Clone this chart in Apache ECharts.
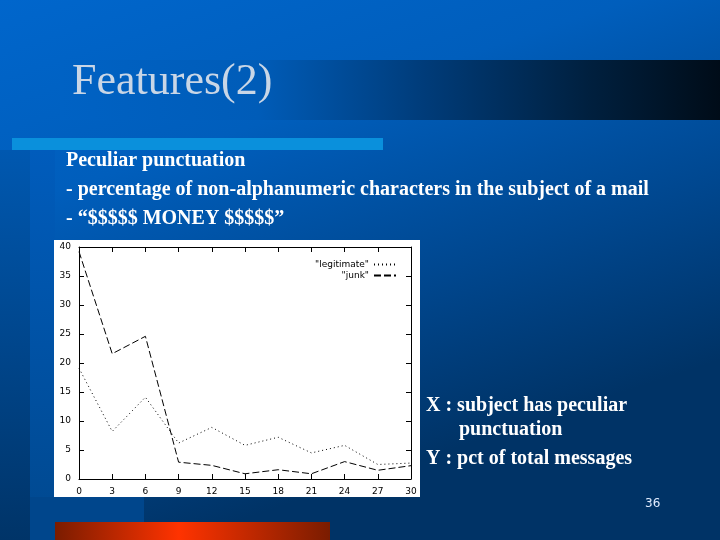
<!DOCTYPE html>
<html><head><meta charset="utf-8">
<script src="https://cdn.jsdelivr.net/npm/echarts@6/dist/echarts.min.js"></script>
<style>html,body{margin:0;padding:0;background:#0060c0}#c{width:720px;height:540px}</style>
</head><body><div id="c"></div>
<script>
var xValues = [0, 3, 6, 9, 12, 15, 18, 21, 24, 27, 30];
var legitimate = [19.1, 8.2, 14.1, 6.2, 8.9, 5.8, 7.2, 4.5, 5.8, 2.5, 2.75];
var junk = [39.2, 21.6, 24.6, 2.9, 2.35, 0.9, 1.6, 0.9, 3.0, 1.5, 2.3];
var xTicks = [0, 3, 6, 9, 12, 15, 18, 21, 24, 27, 30];
var yTicks = [0, 5, 10, 15, 20, 25, 30, 35, 40];

var chart = echarts.init(document.getElementById('c'));
var serif = '"Liberation Serif", "DejaVu Serif", serif';
var axisFont = {color: '#000', fontSize: 9, fontFamily: '"DejaVu Sans", sans-serif'};
function pairs(ys){ return xValues.map(function(x,i){ return [x, ys[i]]; }); }

chart.setOption({
  animation: false,
  graphic: [
    {type:'rect', z:-10, shape:{x:0,y:0,width:720,height:540},
     style:{fill:{type:'linear',x:0,y:0,x2:0.25,y2:1,colorStops:[
       {offset:0,color:'#0066cc'},{offset:0.35,color:'#005ebc'},{offset:0.7,color:'#00478f'},{offset:1,color:'#003366'}]}}},
    {type:'rect', z:-9, shape:{x:0,y:150,width:30,height:390},
     style:{fill:{type:'linear',x:0,y:0,x2:0,y2:1,colorStops:[
       {offset:0,color:'#0058b0'},{offset:1,color:'#003468'}]}}},
    {type:'rect', z:-9, shape:{x:30,y:150,width:25,height:390},
     style:{fill:{type:'linear',x:0,y:0,x2:0,y2:1,colorStops:[
       {offset:0,color:'#005cbc'},{offset:1,color:'#00488e'}]}}},
    {type:'rect', z:-9, shape:{x:30,y:497,width:114,height:43}, style:{fill:'#00468c'}},
    {type:'rect', z:-8, shape:{x:60,y:60,width:660,height:60},
     style:{fill:{type:'linear',x:0,y:0,x2:1,y2:0,colorStops:[
       {offset:0,color:'#0062c4'},{offset:0.3,color:'#005cb8'},{offset:0.55,color:'#003c7a'},
       {offset:0.8,color:'#00203f'},{offset:1,color:'#000c18'}]}}},
    {type:'rect', z:-8, shape:{x:12,y:138,width:371,height:12}, style:{fill:'#0a90dc'}},
    {type:'rect', z:-8, shape:{x:55,y:522,width:275,height:18},
     style:{fill:{type:'linear',x:0,y:0,x2:1,y2:0,colorStops:[
       {offset:0,color:'#7a1c00'},{offset:0.45,color:'#ff3300'},{offset:1,color:'#7a1c00'}]}}},
    {type:'rect', z:-5, shape:{x:54,y:240,width:366,height:257}, style:{fill:'#ffffff'}},
    {type:'text', z:10, left:72, top:60, style:{text:'Features(2)', font:'44px '+serif, fill:'#c9d6e6',
      shadowColor:'rgba(0,0,40,0.9)', shadowOffsetX:2, shadowOffsetY:2, shadowBlur:1}},
    {type:'text', z:10, left:66, top:151, style:{text:'Peculiar punctuation', font:'bold 20px '+serif, fill:'#ffffff'}},
    {type:'text', z:10, left:66, top:180, style:{text:'- percentage of non-alphanumeric characters in the subject of a mail', font:'bold 20px '+serif, fill:'#ffffff'}},
    {type:'text', z:10, left:66, top:209, style:{text:'- \u201c$$$$$ MONEY $$$$$\u201d', font:'bold 20px '+serif, fill:'#ffffff'}},
    {type:'text', z:10, left:426, top:396, style:{text:'X : subject has peculiar', font:'bold 20px '+serif, fill:'#ffffff'}},
    {type:'text', z:10, left:459, top:420, style:{text:'punctuation', font:'bold 20px '+serif, fill:'#ffffff'}},
    {type:'text', z:10, left:426, top:449, style:{text:'Y : pct of total messages', font:'bold 20px '+serif, fill:'#ffffff'}},
    {type:'text', z:10, left:645, top:498, style:{text:'36', font:'12px "DejaVu Sans", sans-serif', fill:'#e0ecff'}}
  ],
  grid: {left:79, right:309, top:247, bottom:61, show:false},
  legend: {
    orient:'vertical', right:318, top:255, align:'right', itemGap:2, itemWidth:22, itemHeight:8,
    itemStyle:{color:'rgba(0,0,0,0)', borderColor:'rgba(0,0,0,0)', borderWidth:0},
    textStyle:{color:'#000', fontSize:9, fontFamily:'"DejaVu Sans", sans-serif'},
    data:['"legitimate"', '"junk"']
  },
  xAxis: [
    {type:'value', min:0, max:30, interval:3, position:'bottom',
     axisLine:{show:true, onZero:false, lineStyle:{color:'#000', width:1}},
     axisTick:{show:true, inside:true, length:5, lineStyle:{color:'#000'}},
     axisLabel:{show:true, margin:8, formatter:function(v){ return xTicks.indexOf(v)>=0 ? String(v) : ''; }, textStyle:axisFont},
     splitLine:{show:false}},
    {type:'value', min:0, max:30, interval:3, position:'top',
     axisLine:{show:true, onZero:false, lineStyle:{color:'#000', width:1}},
     axisTick:{show:true, inside:true, length:5, lineStyle:{color:'#000'}},
     axisLabel:{show:false}, splitLine:{show:false}}
  ],
  yAxis: [
    {type:'value', min:0, max:40, interval:5, position:'left',
     axisLine:{show:true, onZero:false, lineStyle:{color:'#000', width:1}},
     axisTick:{show:true, inside:true, length:5, lineStyle:{color:'#000'}},
     axisLabel:{show:true, margin:8, formatter:function(v){ return yTicks.indexOf(v)>=0 ? String(v) : ''; }, textStyle:axisFont},
     splitLine:{show:false}},
    {type:'value', min:0, max:40, interval:5, position:'right',
     axisLine:{show:true, onZero:false, lineStyle:{color:'#000', width:1}},
     axisTick:{show:true, inside:true, length:5, lineStyle:{color:'#000'}},
     axisLabel:{show:false}, splitLine:{show:false}}
  ],
  series: [
    {name:'"legitimate"', type:'line', data:pairs(legitimate), showSymbol:false, symbol:'none',
     color:'#000', lineStyle:{color:'#000', width:1, type:[1,3]}, z:5},
    {name:'"junk"', type:'line', data:pairs(junk), showSymbol:false, symbol:'none',
     color:'#000', lineStyle:{color:'#000', width:1, type:[7,3]}, z:5}
  ]
});
</script></body></html>
